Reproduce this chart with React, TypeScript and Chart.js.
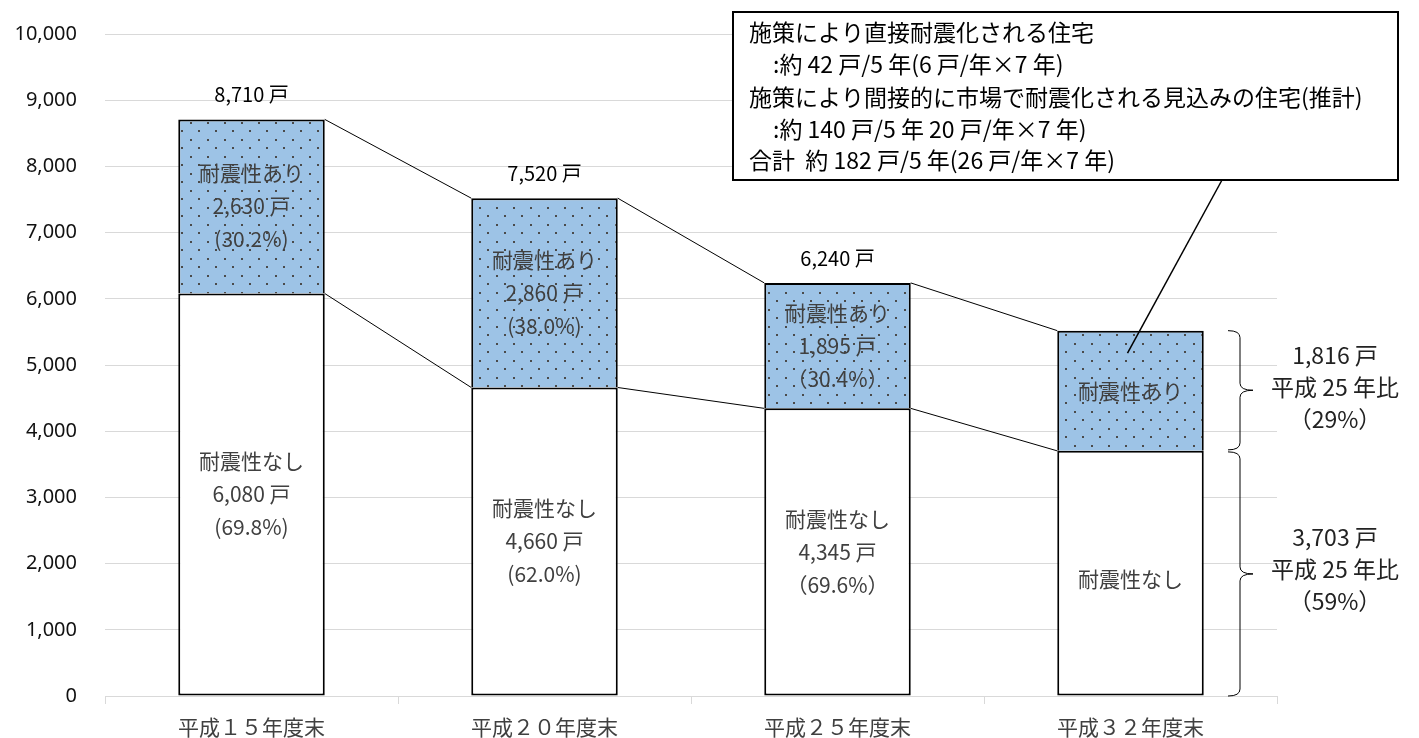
import React, { useEffect, useRef } from 'react';
import { Chart, registerables } from 'chart.js';

Chart.register(...registerables);

const categories = ['平成１５年度末', '平成２０年度末', '平成２５年度末', '平成３２年度末'];
const withoutValues = [6080, 4660, 4345, 3703];
const withValues = [2630, 2860, 1895, 1816];
const totalLabels = ['8,710 戸', '7,520 戸', '6,240 戸', ''];
const withLabels = [
  ['耐震性あり', '2,630 戸', '(30.2%)'],
  ['耐震性あり', '2,860 戸', '(38.0%)'],
  ['耐震性あり', '1,895 戸', '（30.4%）'],
  ['耐震性あり'],
];
const withoutLabels = [
  ['耐震性なし', '6,080 戸', '(69.8%)'],
  ['耐震性なし', '4,660 戸', '(62.0%)'],
  ['耐震性なし', '4,345 戸', '（69.6%）'],
  ['耐震性なし'],
];
const calloutLines = [
  '施策により直接耐震化される住宅',
  ':約 42 戸/5 年(6 戸/年×7 年)',
  '施策により間接的に市場で耐震化される見込みの住宅(推計)',
  ':約 140 戸/5 年 20 戸/年×7 年)',
  '合計  約 182 戸/5 年(26 戸/年×7 年)',
];
const calloutIndent = [0, 24, 0, 24, 0];
const calloutTargetValue = 5180;
const upperBraceLabels = ['1,816 戸', '平成 25 年比', '（29%）'];
const lowerBraceLabels = ['3,703 戸', '平成 25 年比', '（59%）'];

const JP = '"Noto Sans CJK JP", "Noto Sans", sans-serif';

function makePattern(): CanvasPattern | string {
  const c = document.createElement('canvas');
  c.width = 17;
  c.height = 17;
  const g = c.getContext('2d');
  if (!g) return '#9DC3E6';
  g.fillStyle = '#9DC3E6';
  g.fillRect(0, 0, 17, 17);
  g.fillStyle = '#4a4a4a';
  g.fillRect(3, 3, 2, 2);
  g.fillRect(11, 11, 2, 2);
  return g.createPattern(c, 'repeat') || '#9DC3E6';
}

const overlayPlugin = {
  id: 'overlay',
  afterDatasetsDraw(chart: any) {
    const ctx: CanvasRenderingContext2D = chart.ctx;
    const yScale = chart.scales.y;
    const m0 = chart.getDatasetMeta(0);
    const m1 = chart.getDatasetMeta(1);
    const bottom = m0.data.map((el: any) => el.getProps(['x', 'y', 'base', 'width'], true));
    const top = m1.data.map((el: any) => el.getProps(['x', 'y', 'base', 'width'], true));
    ctx.save();
    // connecting lines
    ctx.strokeStyle = '#000';
    ctx.lineWidth = 1;
    for (let i = 0; i < bottom.length - 1; i++) {
      const r = bottom[i].x + bottom[i].width / 2;
      const l = bottom[i + 1].x - bottom[i + 1].width / 2;
      ctx.beginPath();
      ctx.moveTo(r, top[i].y);
      ctx.lineTo(l, top[i + 1].y);
      ctx.moveTo(r, bottom[i].y);
      ctx.lineTo(l, bottom[i + 1].y);
      ctx.stroke();
    }
    // labels inside bars
    ctx.textAlign = 'center';
    ctx.textBaseline = 'middle';
    ctx.fillStyle = '#404040';
    ctx.font = `21px ${JP}`;
    const drawLines = (lines: string[], x: number, cy: number) => {
      const sp = 33;
      const start = cy - ((lines.length - 1) * sp) / 2;
      lines.forEach((t, k) => ctx.fillText(t, x, start + k * sp));
    };
    top.forEach((b: any, i: number) => drawLines(withLabels[i], b.x, (b.y + b.base) / 2));
    bottom.forEach((b: any, i: number) => drawLines(withoutLabels[i], b.x, (b.y + b.base) / 2 + (i === 3 ? 6 : 0)));
    // totals
    ctx.fillStyle = '#000';
    ctx.font = `20px ${JP}`;
    top.forEach((b: any, i: number) => {
      if (totalLabels[i]) ctx.fillText(totalLabels[i], b.x, b.y - 25);
    });
    // callout
    const bx = 733, by = 12, bw = 665, bh = 168;
    const tgt = top[3];
    ctx.lineWidth = 1.5;
    ctx.beginPath();
    ctx.moveTo(1222, by + bh);
    ctx.lineTo(tgt.x - 3, yScale.getPixelForValue(calloutTargetValue));
    ctx.stroke();
    ctx.fillStyle = '#fff';
    ctx.fillRect(bx, by, bw, bh);
    ctx.lineWidth = 2;
    ctx.strokeRect(bx, by, bw, bh);
    ctx.fillStyle = '#000';
    ctx.textAlign = 'left';
    ctx.font = `23px ${JP}`;
    const ys = [32, 64, 97, 129, 160];
    calloutLines.forEach((t, k) => ctx.fillText(t, 749 + calloutIndent[k], ys[k], 642));
    // braces
    const yTop = tgt.y;
    const yMid = tgt.base;
    const yBot = yScale.getPixelForValue(0);
    const brace = (y1: number, y2: number) => {
      const x0 = 1228, xm = 1240, xt = 1253, r = 7;
      const ym = (y1 + y2) / 2;
      ctx.beginPath();
      ctx.moveTo(x0, y1);
      ctx.quadraticCurveTo(xm, y1, xm, y1 + r);
      ctx.lineTo(xm, ym - r);
      ctx.quadraticCurveTo(xm, ym, xt, ym);
      ctx.moveTo(xt, ym);
      ctx.quadraticCurveTo(xm, ym, xm, ym + r);
      ctx.lineTo(xm, y2 - r);
      ctx.quadraticCurveTo(xm, y2, x0, y2);
      ctx.stroke();
    };
    ctx.lineWidth = 1;
    brace(yTop, yMid - 1);
    brace(yMid + 1, yBot);
    ctx.textAlign = 'center';
    ctx.fillStyle = '#222';
    ctx.font = `23px ${JP}`;
    const um = (yTop + yMid) / 2;
    upperBraceLabels.forEach((t, k) => ctx.fillText(t, 1335, um - 35 + k * 32));
    const lm = (yMid + yBot) / 2;
    lowerBraceLabels.forEach((t, k) => ctx.fillText(t, 1335, lm - 36 + k * 32));
    ctx.restore();
  },
};

export default function App() {
  const ref = useRef<HTMLCanvasElement>(null);
  useEffect(() => {
    if (!ref.current) return;
    const pattern = makePattern();
    const chart = new Chart(ref.current, {
      type: 'bar',
      data: {
        labels: categories,
        datasets: [
          {
            label: '耐震性なし',
            data: withoutValues,
            backgroundColor: '#ffffff',
            borderColor: '#000',
            borderWidth: 2,
            borderSkipped: false,
          },
          {
            label: '耐震性あり',
            data: withValues,
            backgroundColor: pattern as any,
            borderColor: '#000',
            borderWidth: 2,
            borderSkipped: 'start',
          },
        ],
      },
      options: {
        responsive: false,
        animation: false,
        layout: { padding: { top: 34, right: 142, left: 0, bottom: 0 } },
        datasets: { bar: { barPercentage: 0.5, categoryPercentage: 1 } },
        plugins: { legend: { display: false }, tooltip: { enabled: false } },
        scales: {
          x: {
            stacked: true,
            grid: { display: true, drawOnChartArea: false, drawTicks: true, tickLength: 8, color: '#d9d9d9', offset: true },
            border: { color: '#d9d9d9', width: 1 },
            ticks: { color: '#404040', font: { family: JP, size: 21 }, padding: 10 },
            afterFit: (s: any) => { s.height = 42; s.paddingLeft = 0; s.paddingRight = 0; },
          },
          y: {
            stacked: true,
            min: 0,
            max: 10000,
            ticks: {
              stepSize: 1000,
              color: '#111',
              font: { family: '"Noto Sans", sans-serif', size: 20 },
              padding: 28,
              callback: (v: any) => Number(v).toLocaleString('en-US'),
            },
            grid: { color: '#d9d9d9', drawTicks: false },
            border: { display: false },
            afterFit: (s: any) => { s.width = 105; s.paddingTop = 0; s.paddingBottom = 0; },
          },
        },
      },
      plugins: [overlayPlugin],
    });
    return () => chart.destroy();
  }, []);
  return (
    <div style={{ position: 'absolute', left: 0, top: 0, width: 1419, height: 738, background: '#fff' }}>
      <canvas ref={ref} width={1419} height={738} style={{ display: 'block' }} />
    </div>
  );
}
